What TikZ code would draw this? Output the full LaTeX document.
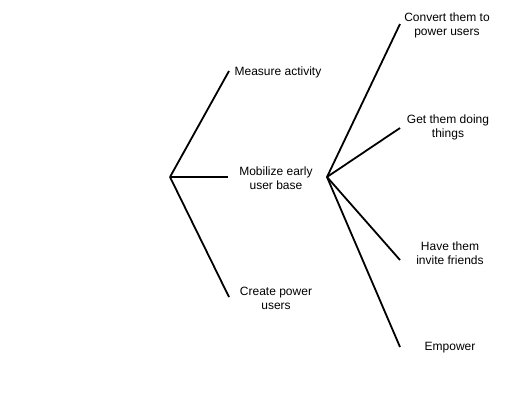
\documentclass[tikz,border=0pt]{standalone}
\usepackage{fontspec}
\setmainfont{Liberation Sans}

\begin{document}
\begin{tikzpicture}[x=1pt,y=-1pt,line width=1.8pt,leaf node/.style={align=center,inner sep=0pt,font=\fontsize{12}{14}\selectfont}]
                        \useasboundingbox (0,0) rectangle (520,405);
                        \coordinate (root) at (170,177);
                        \coordinate (hub) at (327,177);

                        \coordinate (e1) at (229,71);
                        \coordinate (e2) at (228,177);
                        \coordinate (e3) at (229,297);
                        \coordinate (f1) at (400,24);
                        \coordinate (f2) at (400,128);
                        \coordinate (f3) at (400,260);
                        \coordinate (f4) at (400,347);

                        \node[leaf node] (measure) at (278,72) {Measure activity};
                        \node[leaf node] (mobilize) at (276,178) {Mobilize early\\user base};
                        \node[leaf node] (create) at (276,298) {Create power\\users};
                        \node[leaf node] (convert) at (447,25) {Convert them to\\power users};
                        \node[leaf node] (doing) at (448,127) {Get them doing\\things};
                        \node[leaf node] (invite) at (450,253) {Have them\\invite friends};
                        \node[leaf node] (empower) at (450,348) {Empower};

                        \path[draw]
                            (root) edge (e1)
                            (root) edge (e2)
                            (root) edge (e3)

                            (hub) edge (f1)
                            (hub) edge (f2)
                            (hub) edge (f3)
                            (hub) edge (f4)
                        ;

                    \end{tikzpicture}
\end{document}
